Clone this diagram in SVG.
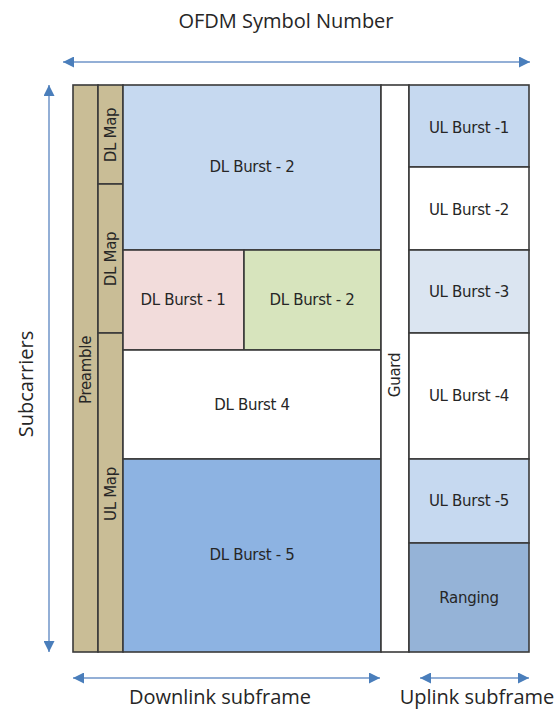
<svg xmlns="http://www.w3.org/2000/svg" width="557" height="711" viewBox="0 0 557 711">
<defs>
<marker id="ah" viewBox="0 0 10 10" refX="10" refY="5" markerWidth="11" markerHeight="11" markerUnits="userSpaceOnUse" orient="auto-start-reverse">
<path d="M0,0 L10,5 L0,10 Z" fill="#4a7ebb"/>
</marker>
<style>
.c{stroke:#3a3a3a;stroke-width:1.6}
.t{font-family:"DejaVu Sans",Verdana,sans-serif;font-size:15px;fill:#262626;text-anchor:middle;dominant-baseline:central;letter-spacing:-0.3px}
.h{font-family:"Open Sans","Liberation Sans",sans-serif;font-size:20px;fill:#262626;text-anchor:middle}
.a{stroke:#6f95c9;stroke-width:1.5;fill:none;marker-start:url(#ah);marker-end:url(#ah)}
</style>
</defs>
<rect width="557" height="711" fill="#ffffff"/>
<g id="connectors">
<line class="a" x1="63" y1="62" x2="530" y2="62"/>
<line class="a" x1="49" y1="85" x2="49" y2="652"/>
<line class="a" x1="73" y1="678" x2="380" y2="678"/>
<line class="a" x1="420" y1="678" x2="529" y2="678"/>
</g>
<g id="preamble"><rect class="c" x="73" y="85" width="25" height="567" fill="#c9bd96"/><text class="t" transform="translate(86,370) rotate(-90)">Preamble</text></g>
<g id="dlmap1"><rect class="c" x="98" y="85" width="25" height="99" fill="#c9bd96"/><text class="t" transform="translate(111,135) rotate(-90)">DL Map</text></g>
<g id="dlmap2"><rect class="c" x="98" y="184" width="25" height="149" fill="#c9bd96"/><text class="t" transform="translate(111,259) rotate(-90)">DL Map</text></g>
<g id="ulmap"><rect class="c" x="98" y="333" width="25" height="319" fill="#c9bd96"/><text class="t" transform="translate(111,494) rotate(-90)">UL Map</text></g>
<g id="dlburst2a"><rect class="c" x="123" y="85" width="258" height="165" fill="#c6d9f0"/><text class="t" x="252" y="167">DL Burst - 2</text></g>
<g id="dlburst1"><rect class="c" x="123" y="250" width="121" height="100" fill="#f2dcdb"/><text class="t" x="183" y="300">DL Burst - 1</text></g>
<g id="dlburst2b"><rect class="c" x="244" y="250" width="137" height="100" fill="#d7e4bd"/><text class="t" x="312" y="300">DL Burst - 2</text></g>
<g id="dlburst4"><rect class="c" x="123" y="350" width="258" height="109" fill="#ffffff"/><text class="t" x="252" y="405">DL Burst 4</text></g>
<g id="dlburst5"><rect class="c" x="123" y="459" width="258" height="193" fill="#8db3e2"/><text class="t" x="252" y="555">DL Burst - 5</text></g>
<g id="guard"><rect class="c" x="381" y="85" width="28" height="567" fill="#ffffff"/><text class="t" transform="translate(395,375) rotate(-90)">Guard</text></g>
<g id="ulburst1"><rect class="c" x="409" y="85" width="120" height="82" fill="#c6d9f0"/><text class="t" x="469" y="128">UL Burst -1</text></g>
<g id="ulburst2"><rect class="c" x="409" y="167" width="120" height="83" fill="#ffffff"/><text class="t" x="469" y="210">UL Burst -2</text></g>
<g id="ulburst3"><rect class="c" x="409" y="250" width="120" height="83" fill="#dbe5f1"/><text class="t" x="469" y="292">UL Burst -3</text></g>
<g id="ulburst4"><rect class="c" x="409" y="333" width="120" height="126" fill="#ffffff"/><text class="t" x="469" y="396">UL Burst -4</text></g>
<g id="ulburst5"><rect class="c" x="409" y="459" width="120" height="84" fill="#c6d9f0"/><text class="t" x="469" y="501">UL Burst -5</text></g>
<g id="ranging"><rect class="c" x="409" y="543" width="120" height="109" fill="#95b3d7"/><text class="t" x="469" y="598">Ranging</text></g>
<g id="labels">
<text class="h" x="286" y="28">OFDM Symbol Number</text>
<text class="h" transform="translate(33,384) rotate(-90)">Subcarriers</text>
<text class="h" x="220" y="704">Downlink subframe</text>
<text class="h" x="477" y="704">Uplink subframe</text>
</g>
</svg>
